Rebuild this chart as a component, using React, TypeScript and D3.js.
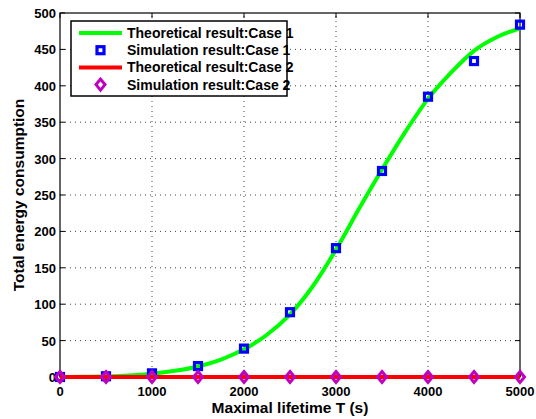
import * as d3 from "d3";
import React from "react";

const simX = [0, 500, 1000, 1500, 2000, 2500, 3000, 3500, 4000, 4500, 5000];
const simCase1 = [0, 1, 5, 15, 39, 89, 177, 283, 385, 434, 484];
const simCase2 = [0, 0, 0, 0, 0, 0, 0, 0, 0, 0, 0];

const theoX = [0, 250, 500, 750, 1000, 1250, 1500, 1750, 2000, 2250, 2500, 2750, 3000, 3250, 3500, 3750, 4000, 4250, 4500, 4750, 5000];
const theoCase1 = [0, 0.2, 0.8, 2, 4.5, 8.5, 14.5, 24, 38, 58, 86, 125, 175, 231, 285, 336, 382, 418, 448, 467, 479];
const theoCase2 = [0, 0, 0, 0, 0, 0, 0, 0, 0, 0, 0, 0, 0, 0, 0, 0, 0, 0, 0, 0, 0];

const xTicks = [0, 1000, 2000, 3000, 4000, 5000];
const yTicks = [0, 50, 100, 150, 200, 250, 300, 350, 400, 450, 500];

const legendLabels = [
  "Theoretical result:Case 1",
  "Simulation result:Case 1",
  "Theoretical result:Case 2",
  "Simulation result:Case 2",
];

const W = 536;
const H = 419;
const m = { left: 60, right: 16, top: 13, bottom: 42 };
const font = "'Liberation Sans', Arial, sans-serif";

const App = () => {
  const x = d3.scaleLinear([0, 5000], [m.left, W - m.right]);
  const y = d3.scaleLinear([0, 500], [H - m.bottom, m.top]);

  const line = d3
    .line<number>()
    .x((d, i) => x(theoX[i]))
    .y((d) => y(d))
    .curve(d3.curveMonotoneX);

  const x0 = x(0), x1 = x(5000), y0 = y(0), y1 = y(500);

  const square = (cx, cy, k) => (
    <rect key={k} x={cx - 3.5} y={cy - 3.5} width={7} height={7} fill="none" stroke="#0000ff" strokeWidth={3.2} />
  );
  const diamond = (cx, cy, k) => (
    <path key={k} d={`M${cx},${cy - 5.5}L${cx + 4.5},${cy}L${cx},${cy + 5.5}L${cx - 4.5},${cy}Z`} fill="none" stroke="#bf00bf" strokeWidth={3} />
  );

  const lg = { x: 71, y: 21, w: 216, h: 75 };

  return (
    <svg width={W} height={H} style={{ position: "absolute", left: 0, top: 0, background: "#fff" }}>
      <rect width={W} height={H} fill="#fff" />
      {/* grid */}
      <g stroke="#444" strokeWidth={1} strokeDasharray="1,4">
        {xTicks.slice(1, -1).map((t) => (
          <line key={t} x1={x(t)} x2={x(t)} y1={y0} y2={y1} />
        ))}
        {yTicks.slice(1, -1).map((t) => (
          <line key={t} x1={x0} x2={x1} y1={y(t)} y2={y(t)} />
        ))}
      </g>
      {/* ticks inside */}
      <g stroke="#000" strokeWidth={1}>
        {xTicks.map((t) => (
          <g key={t}>
            <line x1={x(t)} x2={x(t)} y1={y0} y2={y0 - 5} />
            <line x1={x(t)} x2={x(t)} y1={y1} y2={y1 + 5} />
          </g>
        ))}
        {yTicks.map((t) => (
          <g key={t}>
            <line x1={x0} x2={x0 + 5} y1={y(t)} y2={y(t)} />
            <line x1={x1} x2={x1 - 5} y1={y(t)} y2={y(t)} />
          </g>
        ))}
      </g>
      <rect x={x0} y={y1} width={x1 - x0} height={y0 - y1} fill="none" stroke="#000" strokeWidth={1.2} />
      {/* tick labels */}
      <g fontFamily={font} fontWeight="bold" fontSize={13} fill="#000">
        {xTicks.map((t) => (
          <text key={t} x={x(t)} y={y0 + 19} textAnchor="middle">{t}</text>
        ))}
        {yTicks.map((t) => (
          <text key={t} x={x0 - 4} y={y(t) + 5} textAnchor="end">{t}</text>
        ))}
      </g>
      <text x={(x0 + x1) / 2} y={413} textAnchor="middle" fontFamily={font} fontWeight="bold" fontSize={15.5}>
        Maximal lifetime T (s)
      </text>
      <text transform={`translate(24,${(y0 + y1) / 2}) rotate(-90)`} textAnchor="middle" fontFamily={font} fontWeight="bold" fontSize={15.5}>
        Total energy consumption
      </text>
      {/* series */}
      <path d={line(theoCase1) ?? ""} fill="none" stroke="#00ff00" strokeWidth={4} />
      {simX.map((t, i) => square(x(t), y(simCase1[i]), "s" + i))}
      <path d={line(theoCase2) ?? ""} fill="none" stroke="#ff0000" strokeWidth={4} />
      {simX.map((t, i) => diamond(x(t), y(simCase2[i]), "d" + i))}
      {/* legend */}
      <rect x={lg.x} y={lg.y} width={lg.w} height={lg.h} fill="#fff" stroke="#000" strokeWidth={1.5} />
      <g fontFamily={font} fontWeight="bold" fontSize={14} fill="#000">
        {legendLabels.map((l, i) => {
          const cy = lg.y + 12 + i * 17.2;
          return (
            <g key={l}>
              {i % 2 === 0 ? (
                <line x1={79} x2={122} y1={cy} y2={cy} stroke={i === 0 ? "#00ff00" : "#ff0000"} strokeWidth={4} />
              ) : i === 1 ? (
                square(100.5, cy, "ls")
              ) : (
                diamond(100.5, cy, "ld")
              )}
              <text x={127} y={cy + 5}>{l}</text>
            </g>
          );
        })}
      </g>
    </svg>
  );
};

export default App;
